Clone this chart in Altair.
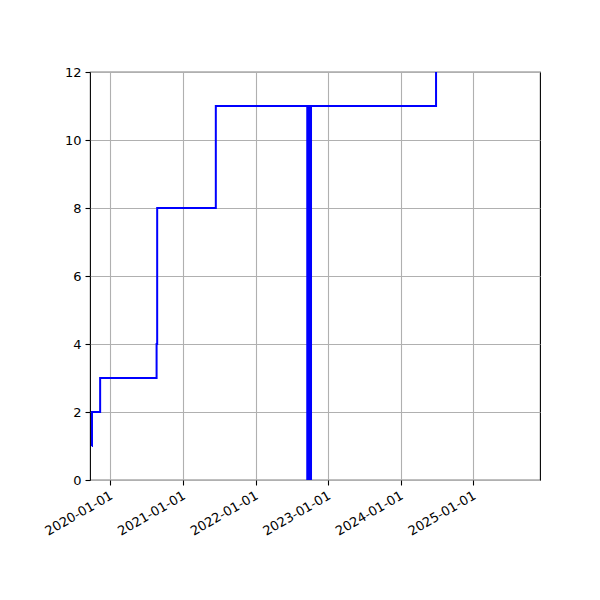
import altair as alt
import pandas as pd

# step line data
step_dates = ["2019-09-30", "2019-10-01", "2019-11-11", "2020-08-21",
              "2020-08-24", "2021-06-15", "2024-06-27"]
step_values = [1, 2, 3, 4, 8, 11, 12]

# dense block of activity
block_start = ["2022-09-13"]
block_end = ["2022-10-12"]
block_top = [11]
block_bottom = [0]

tick_years = [2020, 2021, 2022, 2023, 2024, 2025]

line_df = pd.DataFrame({"date": step_dates, "value": step_values})
block_df = pd.DataFrame({"start": block_start, "end": block_end,
                         "top": block_top, "bottom": block_bottom})

xscale = alt.Scale(type="utc",
                   domain=[alt.DateTime(year=2019, month=9, date=21, utc=True),
                           alt.DateTime(year=2025, month=12, date=2, utc=True)],
                   nice=False)
yscale = alt.Scale(domain=[0, 12], nice=False)

xaxis = alt.Axis(title=None, format="%Y-%m-%d",
                 values=[alt.DateTime(year=y, month=1, date=1, utc=True) for y in tick_years],
                 labelAngle=-30, labelAlign="right", labelBaseline="top",
                 labelPadding=4, labelOffset=-2)
yaxis = alt.Axis(title=None, values=[0, 2, 4, 6, 8, 10, 12], labelPadding=4)

line = alt.Chart(line_df).mark_line(interpolate="step-after", color="blue",
                                    strokeWidth=2, clip=True).encode(
    x=alt.X("date:T", scale=xscale, axis=xaxis),
    y=alt.Y("value:Q", scale=yscale, axis=yaxis),
)

block = alt.Chart(block_df).mark_rect(color="blue").encode(
    x=alt.X("start:T", scale=xscale, axis=xaxis),
    x2="end:T",
    y=alt.Y("top:Q", scale=yscale, axis=yaxis),
    y2="bottom:Q",
)

chart = alt.layer(line, block).properties(
    width=450, height=408,
    background="white",
    autosize=alt.AutoSizeParams(type="none"),
    padding={"left": 82, "top": 64, "right": 50, "bottom": 112},
).configure_view(
    stroke="black", strokeWidth=1.1
).configure_axis(
    grid=True, gridColor="#b0b0b0", gridWidth=1.1, gridOpacity=1,
    domain=False, tickColor="black", tickSize=5, tickWidth=1.1,
    labelFont="DejaVu Sans", labelFontSize=13, labelColor="black",
)

chart.save("out.html", embed_options={"renderer": "svg", "actions": False})
